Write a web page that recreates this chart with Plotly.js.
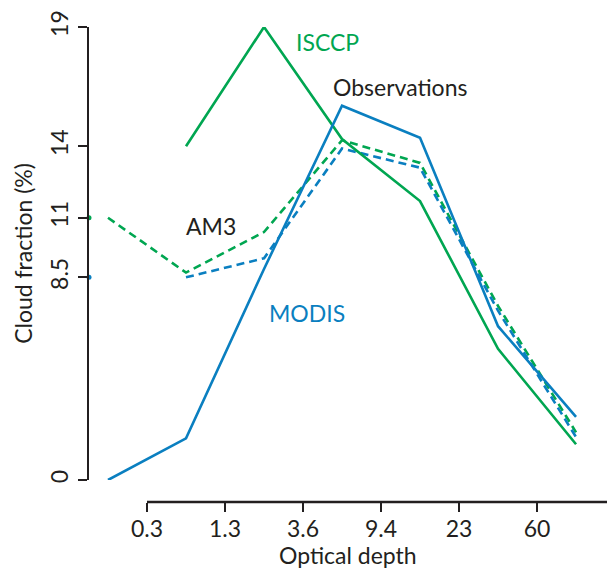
<!DOCTYPE html>
<html>
<head>
<meta charset="utf-8">
<script src="https://cdn.plot.ly/plotly-3.0.1.min.js"></script>
<style>html,body{margin:0;padding:0;background:#fff;}</style>
</head>
<body>
<div id="chart" style="width:607px;height:568px;"></div>
<script>
// Optical-depth bins (index positions), tick labels at bin boundaries
const bins = [0, 1, 2, 3, 4, 5, 6];
const tickPositions = [0.5, 1.5, 2.5, 3.5, 4.5, 5.5];
const tickLabels = ["0.3", "1.3", "3.6", "9.4", "23", "60"];

// Cloud fraction (%)
const isccp   = [null, 14.0, 19.0, 14.3, 11.7, 5.5, 1.5];
const modis   = [0.0, 1.75, 8.85, 15.7, 14.35, 6.45, 2.65];
const am3Isccp = [11.0, 8.7, 10.4, 14.25, 13.3, 7.3, 2.0];
const am3Modis = [null, 8.5, 9.3, 13.9, 13.1, 7.1, 1.8];

const yTicks = [0, 8.5, 11, 14, 19];
const markedValues = [11, 8.5];

const GREEN = "#00a651";
const BLUE = "#0a7fc0";
const INK = "#231f20";
const FONT = "Lato, 'Open Sans', sans-serif";

const xRange = [-0.2436, 6.397];

const traces = [
  {x: bins, y: am3Isccp, mode: "lines", line: {color: GREEN, width: 2.6, dash: "8px,5px"}, hoverinfo: "skip"},
  {x: bins, y: am3Modis, mode: "lines", line: {color: BLUE, width: 2.6, dash: "8px,5px"}, hoverinfo: "skip"},
  {x: bins, y: isccp, mode: "lines", line: {color: GREEN, width: 2.6}, hoverinfo: "skip"},
  {x: bins, y: modis, mode: "lines", line: {color: BLUE, width: 2.6}, hoverinfo: "skip"},
  {x: [xRange[0], xRange[0]], y: markedValues, mode: "markers", cliponaxis: false,
   marker: {color: [GREEN, BLUE], size: 5}, hoverinfo: "skip"}
];

const layout = {
  width: 607, height: 568,
  margin: {l: 89, r: 0, t: 27, b: 66, pad: 0},
  paper_bgcolor: "#fff", plot_bgcolor: "#fff",
  showlegend: false,
  font: {family: FONT, color: INK, size: 23},
  xaxis: {
    range: xRange, anchor: "free", position: 0,
    showgrid: false, zeroline: false, showline: false,
    tickmode: "array", tickvals: tickPositions, ticktext: tickLabels,
    ticks: "outside", ticklen: 9, tickwidth: 2, tickcolor: INK,
    ticklabelstandoff: -3,
    tickfont: {family: FONT, size: 23, color: INK}
  },
  yaxis: {
    range: [0, 19], domain: [22/475, 1],
    showgrid: false, zeroline: false, showline: true, linecolor: INK, linewidth: 2.5,
    tickmode: "array", tickvals: yTicks, ticktext: yTicks.map(String),
    ticks: "outside", ticklen: 9, tickwidth: 2, tickcolor: INK,
    tickangle: -90,
    tickfont: {family: FONT, size: 23, color: INK},
    title: {text: "Cloud fraction (%)", font: {family: FONT, size: 23, color: INK}}
  },
  shapes: [
    {type: "line", xref: "x", yref: "paper", x0: 0.5, x1: 6.5, y0: 0, y1: 0,
     line: {color: INK, width: 2.5}}
  ],
  annotations: [
    {x: 0.5, y: -0.112, xref: "paper", yref: "paper", xanchor: "center", yanchor: "middle",
     text: "Optical depth", showarrow: false, font: {family: FONT, size: 23, color: INK}},
    {x: 2.82, y: 18.37, xref: "x", yref: "y", text: "ISCCP", showarrow: false, font: {family: FONT, size: 23, color: GREEN}},
    {x: 3.74, y: 16.48, xref: "x", yref: "y", text: "Observations", showarrow: false, font: {family: FONT, size: 23, color: INK}},
    {x: 1.32, y: 10.65, xref: "x", yref: "y", text: "AM3", showarrow: false, font: {family: FONT, size: 23, color: INK}},
    {x: 2.55, y: 7.0, xref: "x", yref: "y", text: "MODIS", showarrow: false, font: {family: FONT, size: 23, color: BLUE}}
  ]
};

Plotly.newPlot("chart", traces, layout, {displayModeBar: false, staticPlot: true});
</script>
</body>
</html>
